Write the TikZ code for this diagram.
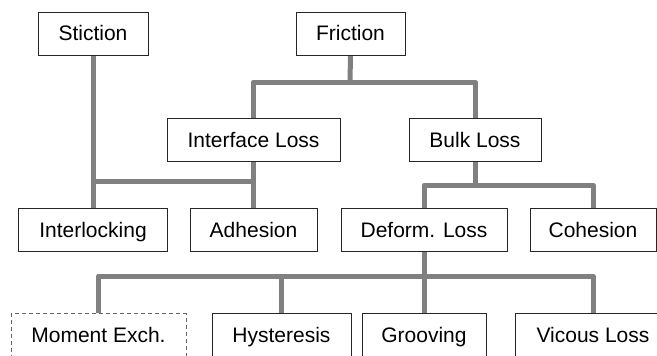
\documentclass[tikz,border=0pt]{standalone}
\usepackage{fontspec}
\setmainfont{Liberation Sans}
\usetikzlibrary{backgrounds}
\begin{document}
\begin{tikzpicture}[x=1pt,y=-1pt,
  box/.style={draw=black!85,line width=0.9pt,fill=white,minimum height=43pt,inner sep=0pt,
    text height=15pt,text depth=0pt,font=\fontsize{21}{25}\selectfont},
  dbox/.style={box,draw=black!60,dash pattern=on 4pt off 3pt},
  conn/.style={draw=black!50,line width=5pt,line join=round}]
\clip (0,0) rectangle (657,356);
% junctions
\coordinate (j1) at (350,82);
\coordinate (j2) at (93,181);
\coordinate (j3) at (475,185);
\coordinate (j4) at (424,276);
% nodes
\node[box,minimum width=110pt] (stiction) at (93,33.5) {Stiction};
\node[box,minimum width=109pt] (friction) at (350.5,33.5) {Friction};
\node[box,minimum width=173pt] (iface) at (253.5,139.5) {Interface Loss};
\node[box,minimum width=132pt] (bulk) at (475,139.5) {Bulk Loss};
\node[box,minimum width=149pt] (interlock) at (93,229.5) {Interlocking};
\node[box,minimum width=127pt] (adhesion) at (253.5,229.5) {Adhesion};
\node[box,minimum width=166pt] (deform) at (424,229.5) {Deform. Loss};
\node[box,minimum width=126pt] (cohesion) at (593,229.5) {Cohesion};
\node[dbox,minimum width=175pt] (moment) at (98.5,335) {Moment Exch.};
\node[box,minimum width=139pt] (hyst) at (281.5,335) {Hysteresis};
\node[box,minimum width=124pt] (groove) at (424,335) {Grooving};
\node[box,minimum width=156pt] (vicous) at (593,335) {Vicous Loss};
% connectors
\begin{scope}[on background layer]
\fill[white] (0,0) rectangle (657,356);
\draw[conn] (friction.south) -- (j1);
\draw[conn] (iface.north) |- (j1);
\draw[conn] (bulk.north) |- (j1);
\draw[conn] (stiction.south) -- (interlock.north);
\draw[conn] (iface.south) -- (adhesion.north);
\draw[conn] (j2) -- (iface.south |- j2);
\draw[conn] (bulk.south) -- (j3);
\draw[conn] (deform.north) |- (j3);
\draw[conn] (cohesion.north) |- (j3);
\draw[conn] (deform.south) -- (groove.north);
\draw[conn] (moment.north) |- (j4);
\draw[conn] (hyst.north) |- (j4);
\draw[conn] (vicous.north) |- (j4);
\end{scope}
\end{tikzpicture}
\end{document}
